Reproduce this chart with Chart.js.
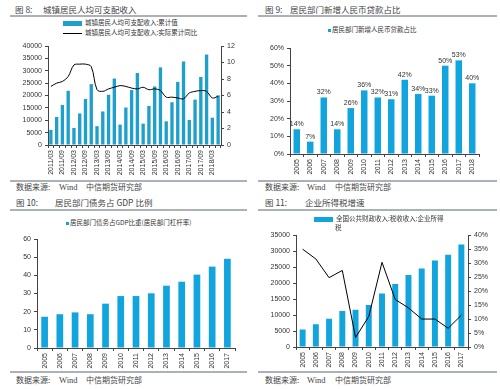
<!doctype html>
<html>
<head>
<meta charset="utf-8" />
<title>居民收入与杠杆</title>
<script src="https://cdn.jsdelivr.net/npm/chart.js@4.4.1/dist/chart.umd.min.js"></script>
<style>
body { margin:0; background:#fff; }
#page { position:relative; width:500px; height:389px; overflow:hidden; font-family:"Noto Sans CJK SC","Noto Sans",sans-serif; color:#333; }
.t { position:absolute; font-size:8.5px; line-height:10px; white-space:nowrap; color:#444; }
.src { position:absolute; font-size:8px; line-height:10px; white-space:nowrap; color:#444; }
.src b { font-weight:normal; font-family:"Liberation Serif",serif; font-size:8.5px; }
.sep { position:absolute; height:2px; background:#aab1b8; }
.box { position:absolute; }
canvas { position:absolute; }
.lg { position:absolute; font-size:6.5px; line-height:9px; white-space:nowrap; color:#333; }
.mk { display:inline-block; vertical-align:middle; margin-right:3px; }
</style>
</head>
<body>
<div id="page">

<div class="t" style="left:15px;top:4px">图 8:</div>
<div class="t" style="left:43px;top:4px">城镇居民人均可支配收入</div>
<div class="sep" style="left:10px;top:15px;width:237px"></div>
<div class="t" style="left:265px;top:4px">图 9:</div>
<div class="t" style="left:290px;top:4px">居民部门新增人民币贷款占比</div>
<div class="sep" style="left:258px;top:15px;width:239px"></div>

<div class="sep" style="left:10px;top:180px;width:237px"></div>
<div class="src" style="left:16px;top:182px">数据来源:&nbsp;<b style="position:absolute;left:43px">Wind</b><span style="position:absolute;left:70px">中信期货研究部</span></div>
<div class="sep" style="left:258px;top:180px;width:239px"></div>
<div class="src" style="left:265px;top:182px">数据来源:&nbsp;<b style="position:absolute;left:42px">Wind</b><span style="position:absolute;left:70px">中信期货研究部</span></div>

<div class="t" style="left:16px;top:197px">图 10:</div>
<div class="t" style="left:55px;top:197px">居民部门债务占 GDP 比例</div>
<div class="sep" style="left:10px;top:209px;width:237px"></div>
<div class="t" style="left:265px;top:197px">图 11:</div>
<div class="t" style="left:305px;top:197px">企业所得税增速</div>
<div class="sep" style="left:258px;top:209px;width:239px"></div>

<div class="sep" style="left:10px;top:371px;width:237px"></div>
<div class="src" style="left:16px;top:375px">数据来源:&nbsp;<b style="position:absolute;left:43px">Wind</b><span style="position:absolute;left:70px">中信期货研究部</span></div>
<div class="sep" style="left:258px;top:371px;width:239px"></div>
<div class="src" style="left:265px;top:375px">数据来源:&nbsp;<b style="position:absolute;left:42px">Wind</b><span style="position:absolute;left:70px">中信期货研究部</span></div>

<canvas id="c8" width="250" height="137" style="left:0;top:38px"></canvas>
<canvas id="c9" width="250" height="140" style="left:250px;top:38px"></canvas>
<canvas id="c10" width="250" height="144" style="left:0;top:228px"></canvas>
<canvas id="c11" width="250" height="144" style="left:250px;top:228px"></canvas>

<div class="lg" style="left:63px;top:18px"><span class="mk" style="width:19px;height:5px;background:#1f9fcb"></span>城镇居民人均可支配收入:累计值</div>
<div class="lg" style="left:63px;top:28px"><span class="mk" style="width:19px;height:1px;background:#000"></span>城镇居民人均可支配收入:实际累计同比</div>
<div class="lg" style="left:328px;top:25px"><span class="mk" style="width:3px;height:3px;background:#12a4dd;margin-right:1px"></span>居民部门新增人民币贷款占比</div>
<div class="lg" style="left:66px;top:218px"><span class="mk" style="width:3px;height:3px;background:#12a4dd;margin-right:1px"></span>居民部门债务占GDP比重(居民部门杠杆率)</div>
<div class="lg" style="left:314px;top:214px;white-space:normal;width:140px"><span class="mk" style="width:19px;height:5px;background:#12a4dd"></span>全国公共财政收入:税收收入:企业所得<br><span style="margin-left:21px">税</span></div>

</div>

<script>
// fig 8 - quarterly, 2011/03 .. 2018/06
var quarters = ['2011/03','2011/06','2011/09','2011/12','2012/03','2012/06','2012/09','2012/12',
  '2013/03','2013/06','2013/09','2013/12','2014/03','2014/06','2014/09','2014/12',
  '2015/03','2015/06','2015/09','2015/12','2016/03','2016/06','2016/09','2016/12',
  '2017/03','2017/06','2017/09','2017/12','2018/03','2018/06'];
var incomeCum = [6100,11300,16200,21900, 6900,12750,18600,24600, 7600,13550,20300,26850,
  8240,15150,22200,29100, 8640,15800,23650,31360, 9570,17270,25500,33750,
  10100,18340,27500,36550, 11030,20080];
var incomeRealYoy = [7.1,7.5,7.7,8.3, 9.7,9.8,9.8,9.5, 6.7,6.5,6.8,7.0,
  7.2,7.1,6.9,6.8, 7.0,6.7,6.8,6.6, 5.8,5.8,5.7,5.6,
  6.3,6.5,6.6,6.5, 5.7,5.9];

// fig 9
var years9 = ['2005','2006','2007','2008','2009','2010','2011','2012','2013','2014','2015','2016','2017','2018'];
var loanShare = [14,7,32,14,26,36,32,31,42,34,33,50,53,40];

// fig 10
var years10 = ['2005','2006','2007','2008','2009','2010','2011','2012','2013','2014','2015','2016','2017'];
var debtToGdp = [17.2,18.6,19.6,18.6,24.4,28.6,28.6,30.1,34.3,36.5,40.4,44.8,49.1];

// fig 11
var years11 = ['2005','2006','2007','2008','2009','2010','2011','2012','2013','2014','2015','2016','2017'];
var corpTax = [5470,7120,8880,11250,11670,13110,16730,19720,22510,24570,27050,28910,32110];
var corpTaxYoy = [35.0,31.5,24.8,27.4,3.4,10.9,30.3,17.0,14.0,10.0,10.0,6.7,11.4];

Chart.defaults.font.family = '"Liberation Sans", Arial, sans-serif';
Chart.defaults.font.size = 7;
Chart.defaults.color = '#333';
Chart.defaults.animation = false;
Chart.defaults.plugins.legend.display = false;
Chart.defaults.plugins.tooltip.enabled = false;
Chart.defaults.responsive = false;

var axisColor = '#444';

function yAxis(pos, w, min, max, step, fmt) {
  return {
    position: pos, min: min, max: max,
    border: { display: true, color: axisColor },
    grid: { drawOnChartArea: false, color: axisColor, tickLength: 3 },
    ticks: { stepSize: step, padding: 3, callback: fmt || function (v) { return v; } },
    afterFit: function (s) { s.width = w; }
  };
}
function xAxis(h, every) {
  return {
    border: { display: true, color: axisColor },
    grid: { drawOnChartArea: false, color: axisColor, tickLength: 3 },
    ticks: {
      autoSkip: false, maxRotation: 90, minRotation: 90, padding: 2,
      callback: function (v, i) { return (i % every === 0) ? this.getLabelForValue(v) : ''; }
    },
    afterFit: function (s) { s.height = h; }
  };
}

// labels over the bars of fig 9
var barLabels = {
  id: 'barLabels',
  afterDatasetsDraw: function (chart) {
    var ctx = chart.ctx;
    var meta = chart.getDatasetMeta(0);
    ctx.save();
    ctx.font = '7px "Liberation Sans", Arial';
    ctx.fillStyle = '#333';
    ctx.textAlign = 'center';
    ctx.textBaseline = 'bottom';
    meta.data.forEach(function (bar, i) {
      ctx.fillText(loanShare[i] + '%', bar.x, bar.y - 1.5);
    });
    ctx.restore();
  }
};

new Chart(document.getElementById('c8'), {
  type: 'bar',
  data: {
    labels: quarters,
    datasets: [
      { type: 'line', data: incomeRealYoy, yAxisID: 'y1', borderColor: '#000', borderWidth: 1,
        pointRadius: 0, tension: 0.35, order: 0 },
      { data: incomeCum, yAxisID: 'y', backgroundColor: '#1f9fcb',
        barPercentage: 0.58, categoryPercentage: 1, order: 1 }
    ]
  },
  options: {
    layout: { padding: { top: 8, left: 0, right: 0, bottom: 0 } },
    scales: {
      x: xAxis(30, 2),
      y: yAxis('left', 48, 0, 40000, 5000),
      y1: yAxis('right', 29, 0, 12, 2)
    }
  }
});

new Chart(document.getElementById('c9'), {
  type: 'bar',
  data: {
    labels: years9,
    datasets: [{ data: loanShare, backgroundColor: '#12a4dd', barPercentage: 0.48, categoryPercentage: 1 }]
  },
  options: {
    layout: { padding: { top: 10, left: 0, right: 21, bottom: 0 } },
    scales: {
      x: xAxis(24, 1),
      y: yAxis('left', 40, 0, 60, 10, function (v) { return v + '%'; })
    }
  },
  plugins: [barLabels]
});

new Chart(document.getElementById('c10'), {
  type: 'bar',
  data: {
    labels: years10,
    datasets: [{ data: debtToGdp, backgroundColor: '#12a4dd', barPercentage: 0.44, categoryPercentage: 1 }]
  },
  options: {
    layout: { padding: { top: 11, left: 0, right: 15, bottom: 0 } },
    scales: {
      x: xAxis(24, 1),
      y: yAxis('left', 37, 0, 60, 10)
    }
  }
});

new Chart(document.getElementById('c11'), {
  type: 'bar',
  data: {
    labels: years11,
    datasets: [
      { type: 'line', data: corpTaxYoy, yAxisID: 'y1', borderColor: '#000', borderWidth: 1,
        pointRadius: 0, tension: 0, order: 0 },
      { data: corpTax, yAxisID: 'y', backgroundColor: '#12a4dd',
        barPercentage: 0.45, categoryPercentage: 1, order: 1 }
    ]
  },
  options: {
    layout: { padding: { top: 6, left: 0, right: 0, bottom: 0 } },
    scales: {
      x: xAxis(25, 1),
      y: yAxis('left', 46, 0, 35000, 5000),
      y1: yAxis('right', 32, 0, 40, 5, function (v) { return v + '%'; })
    }
  }
});
</script>
</body>
</html>
